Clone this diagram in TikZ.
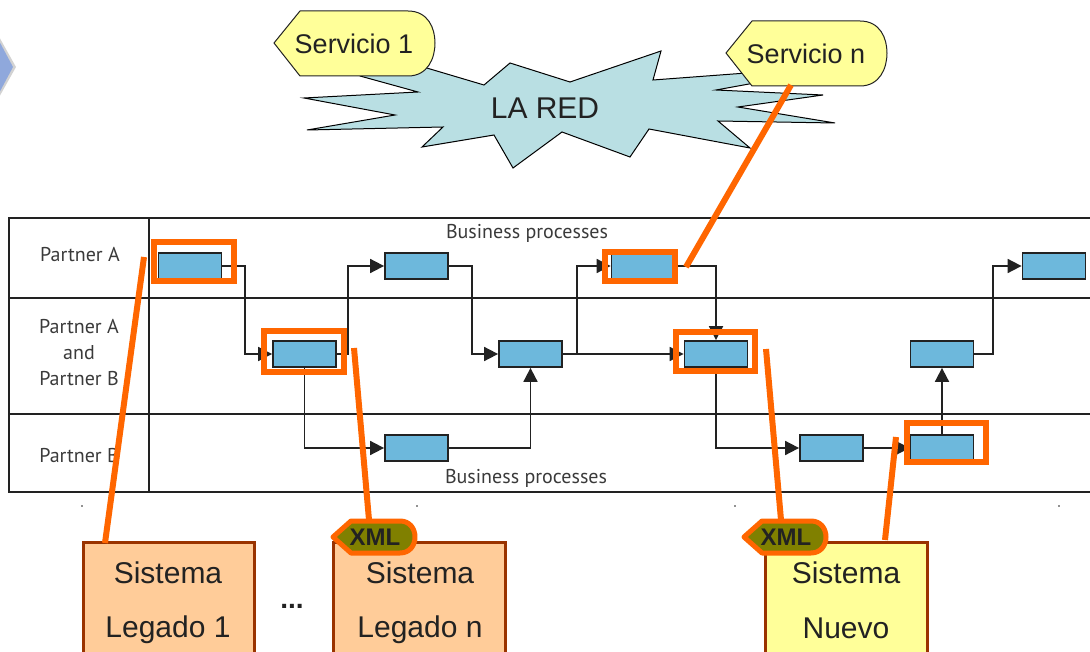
\documentclass[tikz,border=0pt]{standalone}
\usepackage{fontspec}
\setmainfont{Liberation Sans}
\newfontfamily\lblfont{PT Sans}
\usetikzlibrary{arrows.meta}
\definecolor{procblue}{HTML}{6DB8DC}
\definecolor{dark}{HTML}{222222}
\definecolor{hl}{HTML}{FF6600}
\definecolor{servy}{HTML}{FFFF99}
\definecolor{netc}{HTML}{B9DFE3}
\definecolor{legc}{HTML}{FFCC99}
\definecolor{brn}{HTML}{993300}
\definecolor{olive}{HTML}{808000}
\definecolor{lblc}{HTML}{3A3A3A}
\definecolor{diam}{HTML}{8FA8DC}
\tikzset{
  proc/.style={draw=dark, line width=1.8pt, fill=procblue, minimum width=63pt, minimum height=26pt, inner sep=0pt},
  flow/.style={draw=dark, line width=1.8pt, -{Triangle[length=14pt,width=14pt]}},
  plain/.style={draw=dark, line width=1.8pt},
  hlbox/.style={draw=hl, line width=6pt},
  hlline/.style={draw=hl, line width=6pt},
  lbl/.style={font=\lblfont\fontsize{20}{26}\selectfont, text=lblc, inner sep=0pt, align=center},
  big/.style={font=\fontsize{30}{34}\selectfont, text=dark, inner sep=0pt},
  serv/.style={font=\fontsize{27}{30}\selectfont, text=dark, inner sep=0pt},
  xmltxt/.style={font=\bfseries\fontsize{24}{26}\selectfont, text=dark, inner sep=0pt},
  sysbox/.style={draw=brn, line width=3pt}
}
\begin{document}
\begin{tikzpicture}[x=1pt,y=-1pt]
\useasboundingbox (0,0) rectangle (1090,652);
\clip (0,0) rectangle (1090,652);
% partial blue diamond at left edge
\fill[gray!70, opacity=0.5] (-62,-72) -- (16,67) -- (-62,206) -- cycle;
\fill[diam] (-60,-70) -- (13,67) -- (-60,204) -- cycle;
% network burst
\filldraw[fill=netc, draw=black, line width=1pt]
  (360,70) -- (420,66) -- (484,85) -- (510,63) -- (570,82) -- (661,51) -- (653,80)
  -- (760,72) -- (760,82) -- (716,90) -- (823,95) -- (738,107) -- (835,123) -- (718,121)
  -- (750,148) -- (649,129) -- (630,157) -- (562,132) -- (513,168) -- (494,135)
  -- (422,147) -- (443,127) -- (307,130) -- (395,115) -- (304,98) -- (418,92)
  -- (360,76) -- cycle;
\node[big] (red) at (545,108) {LA RED};
% service tags
\filldraw[fill=servy, draw=dark, line width=1pt]
  (274,43) -- (300,11) -- (408,11) .. controls (428,11) and (435,28) .. (435,43)
  .. controls (435,58) and (428,76) .. (408,76) -- (300,76) -- cycle;
\node[serv] (s1) at (354,44) {Servicio 1};
\filldraw[fill=servy, draw=dark, line width=1pt]
  (726,53) -- (752,21) -- (860,21) .. controls (880,21) and (887,38) .. (887,53)
  .. controls (887,68) and (880,86) .. (860,86) -- (752,86) -- cycle;
\node[serv] (sn) at (806,54) {Servicio n};
% table
\draw[plain, line width=2.3pt] (9,218) rectangle (1100,492);
\draw[plain, line width=2.3pt] (9,298) -- (1100,298);
\draw[plain, line width=2.3pt] (9,414) -- (1100,414);
\draw[plain, line width=2.3pt] (149,218) -- (149,492);
\node[lbl] (pa) at (80,255) {Partner A};
\node[lbl] (pab) at (79,353) {Partner A\\and\\Partner B};
\node[lbl] (pb) at (79,456) {Partner B};
\node[lbl] (bp1) at (527,233) {Business processes};
\node[lbl] (bp2) at (526,478) {Business processes};
% tick dots
\foreach \x in {82,417,735,1059} \fill[dark] (\x,506) circle (0.9);
% process boxes
\node[proc] (b1) at (190,266) {};
\node[proc] (b2) at (304.5,354) {};
\node[proc] (b3) at (416.5,266) {};
\node[proc] (b4) at (416.5,448) {};
\node[proc] (b5) at (530.5,354) {};
\node[proc, minimum width=61pt] (b6) at (642,266) {};
\node[proc] (b7) at (716,354) {};
\node[proc] (b8) at (831.5,448) {};
\node[proc] (b9) at (942,448) {};
\node[proc] (b10) at (942,354) {};
\node[proc] (b11) at (1054,266) {};
% flows
\draw[flow] (b1.east) -- (245,266) |- (b2.west);
\draw[flow] (b2.east) -- (348,354) |- (b3.west);
\draw[flow] (b2.south) |- (b4.west);
\draw[flow] (b3.east) -- (472,266) |- (b5.west);
\draw[flow] (b4.east) -| (b5.south);
\draw[flow] (b5.east) -- (b7.west);
\coordinate (br) at (577,354);
\draw[flow] (br) |- (b6.west);
\draw[flow] (b6.east) -| (b7.north);
\draw[flow] (b7.south) |- (b8.west);
\draw[flow] (b8.east) -- (b9.west);
\draw[flow] (b9.north) -- (b10.south);
\draw[flow] (b10.east) -- (993,354) |- (b11.west);
% highlight rectangles
\draw[hlbox] (154,242) rectangle (234,281);
\draw[hlbox] (264,331) rectangle (344,372);
\draw[hlbox] (605,252) rectangle (675,281);
\draw[hlbox] (676,332) rectangle (755,371);
\draw[hlbox] (907,423) rectangle (986,462);
% system boxes
\filldraw[sysbox, fill=legc] (83,542) rectangle (254,670);
\node[big] (l1a) at (168,573) {Sistema};
\node[big] (l1b) at (168,630) {Legado 1};
\filldraw[sysbox, fill=legc] (333,542) rectangle (505,670);
\node[big] (lna) at (420,573) {Sistema};
\node[big] (lnb) at (420,630) {Legado n};
\filldraw[sysbox, fill=servy] (765,542) rectangle (927,670);
\node[big] (nva) at (846,573) {Sistema};
\node[big] (nvb) at (846,628) {Nuevo};
\node[font=\bfseries\fontsize{28}{30}\selectfont, text=dark, inner sep=0pt] (dots) at (292,606) {...};
% XML tags
\filldraw[draw=hl, line width=5pt, fill=olive, line join=round]
  (333,537) -- (351,521) -- (400,521) .. controls (410,521) and (415,529) .. (415,537)
  .. controls (415,545) and (410,553) .. (400,553) -- (351,553) -- cycle;
\node[xmltxt] (x1) at (375,537) {XML};
\filldraw[draw=hl, line width=5pt, fill=olive, line join=round]
  (744,537) -- (762,521) -- (811,521) .. controls (821,521) and (826,529) .. (826,537)
  .. controls (826,545) and (821,553) .. (811,553) -- (762,553) -- cycle;
\node[xmltxt] (x2) at (786,537) {XML};
% orange callout lines
\coordinate (o1a) at (144,257); \coordinate (o1b) at (105,543);
\coordinate (o2a) at (354,348); \coordinate (o2b) at (369,520);
\coordinate (o3a) at (791,85);  \coordinate (o3b) at (686,267);
\coordinate (o4a) at (766,349); \coordinate (o4b) at (781,520);
\coordinate (o5a) at (896,437); \coordinate (o5b) at (885,540);
\draw[hlline] (o1a) -- (o1b);
\draw[hlline] (o2a) -- (o2b);
\draw[hlline] (o3a) -- (o3b);
\draw[hlline] (o4a) -- (o4b);
\draw[hlline] (o5a) -- (o5b);
\end{tikzpicture}
\end{document}
